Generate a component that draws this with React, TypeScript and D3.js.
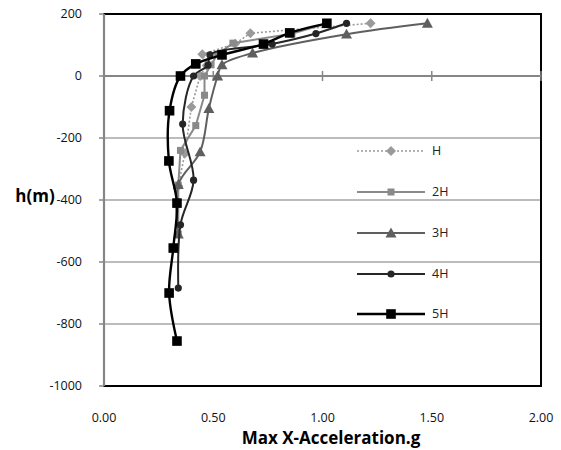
import React from "react";
import * as d3 from "d3";

const seriesNames = ["H", "2H", "3H", "4H", "5H"];

const hAcc = [1.22, 0.67, 0.6, 0.45, 0.47, 0.44, 0.4, 0.37, 0.34];
const hDepth = [170, 138, 104, 70, 34, 0, -100, -250, -355];

const h2Acc = [1.02, 0.86, 0.59, 0.52, 0.49, 0.46, 0.46, 0.42, 0.35, 0.34, 0.34];
const h2Depth = [170, 136, 106, 70, 36, 0, -62, -160, -240, -352, -510];

const h3Acc = [1.48, 1.11, 0.68, 0.54, 0.52, 0.48, 0.44, 0.34, 0.34];
const h3Depth = [170, 135, 74, 36, 0, -105, -245, -350, -510];

const h4Acc = [1.11, 0.97, 0.77, 0.485, 0.476, 0.41, 0.36, 0.41, 0.35, 0.34];
const h4Depth = [170, 137, 103, 68, 35, 0, -155, -336, -480, -684];

const h5Acc = [1.02, 0.85, 0.73, 0.54, 0.42, 0.35, 0.3, 0.297, 0.334, 0.317, 0.298, 0.334];
const h5Depth = [170, 139, 103, 68, 39, 0, -112, -274, -410, -555, -700, -855];

const yTicks = [200, 0, -200, -400, -600, -800, -1000];
const xTicks = [0, 0.5, 1.0, 1.5, 2.0];

const accs = [hAcc, h2Acc, h3Acc, h4Acc, h5Acc];
const depths = [hDepth, h2Depth, h3Depth, h4Depth, h5Depth];
const colors = ["#9a9a9a", "#8a8a8a", "#5f5f5f", "#262626", "#000000"];
const widths = [1.6, 2, 2, 2, 2.4];
const dashes = ["2,2", null, null, null, null];
const smooth = [false, false, true, true, true];

const W = 561, H = 450;
const L = 104, R = 541, T = 14, B = 386;

function Marker({ k, x, y, c }: { k: number; x: number; y: number; c: string }) {
  if (k === 0) {
    const s = 5;
    return <path d={`M${x},${y - s}L${x + s},${y}L${x},${y + s}L${x - s},${y}Z`} fill={c} />;
  }
  if (k === 1) {
    const s = 3.5;
    return <rect x={x - s} y={y - s} width={2 * s} height={2 * s} fill={c} />;
  }
  if (k === 2) {
    const s = 5.5;
    return <path d={`M${x},${y - s}L${x + s},${y + s * 0.8}L${x - s},${y + s * 0.8}Z`} fill={c} />;
  }
  if (k === 3) {
    return <circle cx={x} cy={y} r={3.6} fill={c} />;
  }
  const s = 4.8;
  return <rect x={x - s} y={y - s} width={2 * s} height={2 * s} fill={c} />;
}

export default function App() {
  const x = d3.scaleLinear().domain([0, 2]).range([L, R]);
  const y = d3.scaleLinear().domain([-1000, 200]).range([B, T]);
  const font = "'Open Sans', 'Noto Sans', sans-serif";

  const legendY = [151, 192, 233, 274, 314];

  return (
    <svg width={W} height={H} style={{ position: "absolute", left: 0, top: 0, background: "#fff" }} fontFamily={font}>
      {yTicks.filter(t => t !== 0 && t !== 200 && t !== -1000).map(t => (
        <line key={t} x1={L} x2={R} y1={y(t)} y2={y(t)} stroke="#a6a6a6" strokeWidth={1.5} />
      ))}
      <rect x={L} y={T} width={R - L} height={B - T} fill="none" stroke="#000" strokeWidth={2} />
      <line x1={L} x2={L} y1={T} y2={B} stroke="#868686" strokeWidth={2.2} />
      {yTicks.map(t => (
        <g key={t}>
          <line x1={L - 5} x2={L} y1={y(t)} y2={y(t)} stroke="#868686" strokeWidth={1.5} />
          <text x={82} y={y(t)} dy="0.35em" textAnchor="end" fontSize={12.5} fill="#111">{t}</text>
        </g>
      ))}
      <line x1={L} x2={R} y1={y(0)} y2={y(0)} stroke="#868686" strokeWidth={2.2} />
      {xTicks.slice(1).map(t => (
        <line key={t} x1={x(t)} x2={x(t)} y1={y(0) - 5} y2={y(0) + 5} stroke="#868686" strokeWidth={1.5} />
      ))}
      {xTicks.map(t => (
        <text key={t} x={x(t)} y={418} dy="0.35em" textAnchor="middle" fontSize={12.5} fill="#111">{t.toFixed(2)}</text>
      ))}
      {seriesNames.map((name, k) => {
        const pts: [number, number][] = accs[k].map((a, i) => [x(a), y(depths[k][i])]);
        const gen = d3.line().curve(smooth[k] ? d3.curveCatmullRom.alpha(0.5) : d3.curveLinear);
        return (
          <g key={name}>
            <path d={gen(pts) || ""} fill="none" stroke={colors[k]} strokeWidth={widths[k]} strokeDasharray={dashes[k] || undefined} />
            {pts.map((p, i) => <Marker key={i} k={k} x={p[0]} y={p[1]} c={colors[k]} />)}
          </g>
        );
      })}
      {seriesNames.map((name, k) => (
        <g key={name}>
          <line x1={357} x2={425} y1={legendY[k]} y2={legendY[k]} stroke={colors[k]} strokeWidth={widths[k]} strokeDasharray={dashes[k] || undefined} />
          <Marker k={k} x={391} y={legendY[k]} c={colors[k]} />
          <text x={432} y={legendY[k]} dy="0.35em" fontSize={12.5} fill="#222">{name}</text>
        </g>
      ))}
      <text x={35} y={196} dy="0.35em" textAnchor="middle" fontSize={17} fontWeight="bold" fill="#000">h(m)</text>
      <text x={331} y={438} dy="0.35em" textAnchor="middle" fontSize={17} fontWeight="bold" fill="#000">Max X-Acceleration.g</text>
    </svg>
  );
}
